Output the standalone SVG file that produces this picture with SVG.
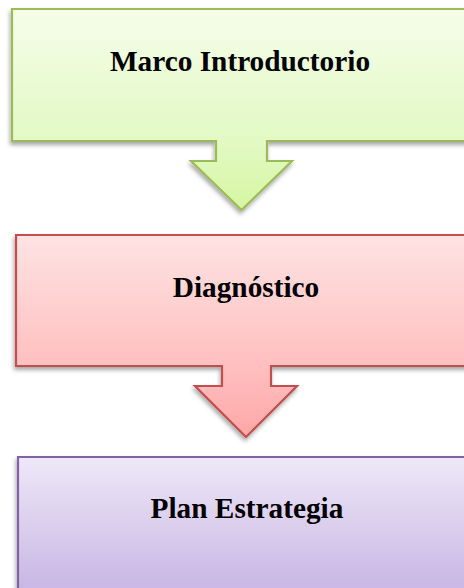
<svg xmlns="http://www.w3.org/2000/svg" width="464" height="588" viewBox="0 0 464 588">
<defs>
<linearGradient id="gGreen" x1="0" y1="0" x2="0" y2="1">
<stop offset="0" stop-color="#f5fde9"/>
<stop offset="0.66" stop-color="#e2f9c4"/>
<stop offset="1" stop-color="#d6f6a0"/>
</linearGradient>
<linearGradient id="gRed" x1="0" y1="0" x2="0" y2="1">
<stop offset="0" stop-color="#fee3e3"/>
<stop offset="0.65" stop-color="#ffbfbf"/>
<stop offset="1" stop-color="#ffa7a7"/>
</linearGradient>
<linearGradient id="gPurple" x1="0" y1="0" x2="0" y2="1">
<stop offset="0" stop-color="#eee8f7"/>
<stop offset="1" stop-color="#c6b2e3"/>
</linearGradient>
<filter id="shadow" x="-10%" y="-10%" width="120%" height="130%">
<feDropShadow dx="-1" dy="3" stdDeviation="2" flood-color="#000" flood-opacity="0.35"/>
</filter>
</defs>
<style>
.shape{stroke-width:2.2;stroke-linejoin:miter;filter:url(#shadow)}
.label{font-family:"Liberation Serif","Times New Roman",serif;font-weight:bold;font-size:29.3px;fill:#000;text-anchor:middle}
</style>
<g id="connectors"></g>
<g id="node-marco">
<path class="shape" d="M12,9 H482 V141 H267 V161 H292 L241.5,210 L191,161 H216 V141 H12 Z" fill="url(#gGreen)" stroke="#9bbb59"/>
<text class="label" x="240" y="71">Marco Introductorio</text>
</g>
<g id="node-diagnostico">
<path class="shape" d="M16,235 H482 V366 H271 V386 H297 L246,437 L195,386 H222 V366 H16 Z" fill="url(#gRed)" stroke="#c0504d"/>
<text class="label" x="246" y="297">Diagnóstico</text>
</g>
<g id="node-plan">
<path class="shape" d="M18,457 H482 V600 H18 Z" fill="url(#gPurple)" stroke="#8064a2"/>
<text class="label" x="247" y="518">Plan Estrategia</text>
</g>
</svg>
